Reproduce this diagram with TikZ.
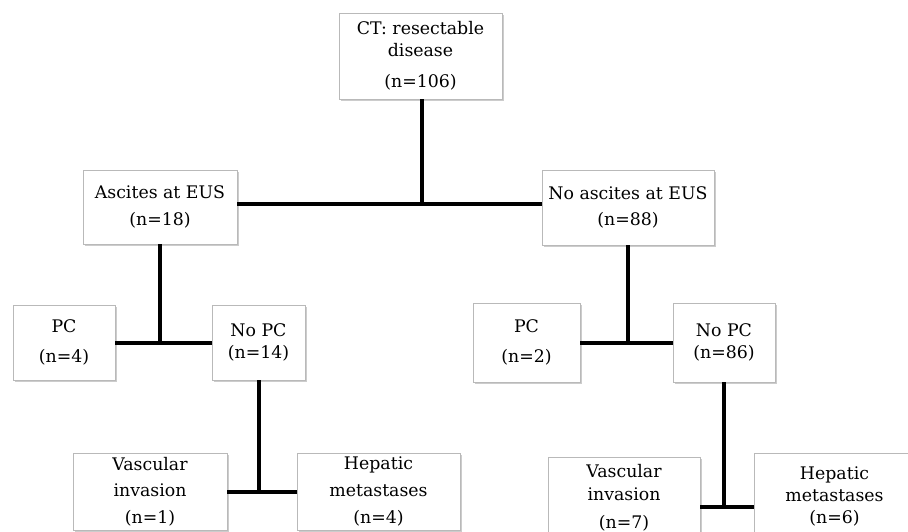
\documentclass[tikz,border=0pt]{standalone}
\usepackage{fontspec}
\setmainfont{DejaVu Serif}
\usetikzlibrary{shadows}

\begin{document}
\begin{tikzpicture}[x=0.75pt, y=-0.75pt,
    box/.style={rectangle, draw=gray!55, line width=0.6pt, fill=white, align=center,
      inner sep=0pt, font=\fontsize{13}{16.5}\selectfont,
      drop shadow={shadow xshift=1.2pt, shadow yshift=-1.2pt, fill=gray, opacity=0.4}},
    link/.style={line width=3pt}]

   \useasboundingbox (0,0) rectangle (908,532);

   \foreach \n/\x/\y/\w/\h/\t in {
       ct/420.5/56/163/86/{CT: resectable\\disease\\[6.5pt](n=106)},
       asc/160/207/154/74/{Ascites at EUS\\[3.5pt](n=18)},
       noasc/628/207.5/172/75/{No ascites at EUS\\[3.5pt](n=88)},
       pcL/64/342.5/102/75/{PC\\[6.5pt](n=4)},
       nopcL/258.5/342.5/93/75/{No PC\\(n=14)},
       pcR/526.5/342.5/107/79/{PC\\[6.5pt](n=2)},
       nopcR/724/342.5/102/79/{No PC\\(n=86)},
       vascL/150/491.5/154/77/{Vascular\\[3.5pt]invasion\\[3.5pt](n=1)},
       hepL/378.5/491.5/163/77/{Hepatic\\[3.5pt]metastases\\[3.5pt](n=4)},
       vascR/624/498/152/82/{Vascular\\[0.5pt]invasion\\[5pt](n=7)},
       hepR/834.5/496/161/86/{Hepatic\\metastases\\(n=6)}}
     \node [box, minimum width=\w*0.75pt, minimum height=\h*0.75pt]
        (\n) at (\x,\y) {\t};

   \coordinate (j1) at (422,204);
   \coordinate (j5) at (725,507);

   \draw [link] (ct.south -| j1) -- (j1);
   \draw [link] (asc.east |- j1) -- (noasc.west |- j1);

   \draw [link] (asc.south) -- (asc.south |- pcL.east);
   \draw [link] (pcL.east) -- (nopcL.west);
   \draw [link] (noasc.south) -- (noasc.south |- pcR.east);
   \draw [link] (pcR.east) -- (nopcR.west);

   \draw [link] (nopcL.south) -- (nopcL.south |- vascL.east);
   \draw [link] (vascL.east) -- (hepL.west);
   \draw [link] (nopcR.south) -- (nopcR.south |- j5);
   \draw [link] (vascR.east |- j5) -- (hepR.west |- j5);
\end{tikzpicture}
\end{document}
